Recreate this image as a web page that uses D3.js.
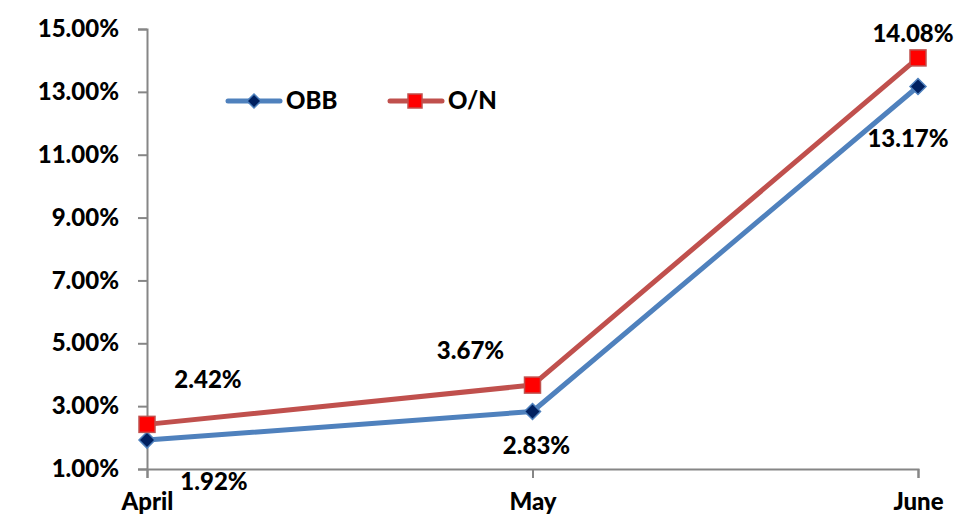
<!DOCTYPE html>
<html>
<head>
<meta charset="utf-8">
<script src="https://cdn.jsdelivr.net/npm/d3@7"></script>
<style>
  html, body { margin: 0; padding: 0; background: #fff; }
  svg { display: block; }
  text { font-family: Lato, "Open Sans", sans-serif; font-weight: 900; fill: #000; }
</style>
</head>
<body>
<svg id="chart" width="969" height="527"></svg>
<script>
// Months shown along the bottom axis
const months = ["April", "May", "June"];
// Rates per month (percent)
const obbValues = [1.92, 2.83, 13.17];
const onValues = [2.42, 3.67, 14.08];
// Y axis ticks (percent)
const yTicks = [1, 3, 5, 7, 9, 11, 13, 15];
const seriesNames = ["OBB", "O/N"];

const svg = d3.select("#chart");
const plot = { left: 147, right: 918, top: 29, bottom: 469 };
const fontSize = "24px";

const x = d3.scalePoint().domain(months).range([plot.left, plot.right]);
const y = d3.scaleLinear().domain([1, 15]).range([plot.bottom, plot.top]);

const axisColor = "#868686";

// Y axis
const yAxis = d3.axisLeft(y).tickValues(yTicks).tickSize(9).tickPadding(19)
  .tickFormat(d => d.toFixed(2) + "%");
const gy = svg.append("g").attr("transform", `translate(${plot.left},0)`).call(yAxis);
gy.select(".domain").attr("stroke", axisColor).attr("stroke-width", 2);
gy.selectAll(".tick line").attr("stroke", axisColor).attr("stroke-width", 2);
gy.selectAll(".tick text").style("font-size", fontSize).attr("fill", "#000");

// X axis
const xAxis = d3.axisBottom(x).tickSize(9).tickPadding(15);
const gx = svg.append("g").attr("transform", `translate(0,${plot.bottom})`).call(xAxis);
gx.select(".domain").attr("stroke", axisColor).attr("stroke-width", 2);
gx.selectAll(".tick line").attr("stroke", axisColor).attr("stroke-width", 2);
gx.selectAll(".tick text").style("font-size", fontSize).attr("fill", "#000");

const line = d3.line().x((d, i) => x(months[i])).y(d => y(d));

const obbLine = "#4F81BD", obbFill = "#002060";
const onLine = "#C0504D", onFill = "#FF0000";

function diamond(g, cx, cy, r) {
  g.append("path")
    .attr("d", `M${cx},${cy - r}L${cx + r},${cy}L${cx},${cy + r}L${cx - r},${cy}Z`)
    .attr("fill", obbFill).attr("stroke", obbLine).attr("stroke-width", 1.5);
}
function square(g, cx, cy, s) {
  g.append("rect").attr("x", cx - s / 2).attr("y", cy - s / 2)
    .attr("width", s).attr("height", s)
    .attr("fill", onFill).attr("stroke", onLine).attr("stroke-width", 1.5);
}

// Series lines
svg.append("path").datum(obbValues).attr("d", line)
  .attr("fill", "none").attr("stroke", obbLine).attr("stroke-width", 5).attr("stroke-linejoin", "round");
svg.append("path").datum(onValues).attr("d", line)
  .attr("fill", "none").attr("stroke", onLine).attr("stroke-width", 5).attr("stroke-linejoin", "round");

const markers = svg.append("g");
obbValues.forEach((v, i) => diamond(markers, x(months[i]), y(v), 8));
onValues.forEach((v, i) => square(markers, x(months[i]), y(v), 16));

// Data labels (offsets relative to each point)
const obbOffsets = [[67, 42], [4, 34], [-10, 52]];
const onOffsets = [[61, -45], [-62, -34], [-5, -24]];
const labels = svg.append("g").style("font-size", fontSize).attr("text-anchor", "middle");
obbValues.forEach((v, i) => {
  labels.append("text").attr("x", x(months[i]) + obbOffsets[i][0]).attr("y", y(v) + obbOffsets[i][1])
    .attr("dy", "0.35em").text(v.toFixed(2) + "%");
});
onValues.forEach((v, i) => {
  labels.append("text").attr("x", x(months[i]) + onOffsets[i][0]).attr("y", y(v) + onOffsets[i][1])
    .attr("dy", "0.35em").text(v.toFixed(2) + "%");
});

// Legend
const legend = svg.append("g");
const ly = 101;
legend.append("line").attr("x1", 228).attr("x2", 280).attr("y1", ly).attr("y2", ly)
  .attr("stroke", obbLine).attr("stroke-width", 5).attr("stroke-linecap", "round");
diamond(legend, 254, ly, 7);
legend.append("text").attr("x", 286).attr("y", ly).attr("dy", "0.35em").style("font-size", fontSize).text(seriesNames[0]);
legend.append("line").attr("x1", 390).attr("x2", 442).attr("y1", ly).attr("y2", ly)
  .attr("stroke", onLine).attr("stroke-width", 5).attr("stroke-linecap", "round");
square(legend, 415, ly, 14);
legend.append("text").attr("x", 448).attr("y", ly).attr("dy", "0.35em").style("font-size", fontSize).text(seriesNames[1]);
</script>
</body>
</html>
